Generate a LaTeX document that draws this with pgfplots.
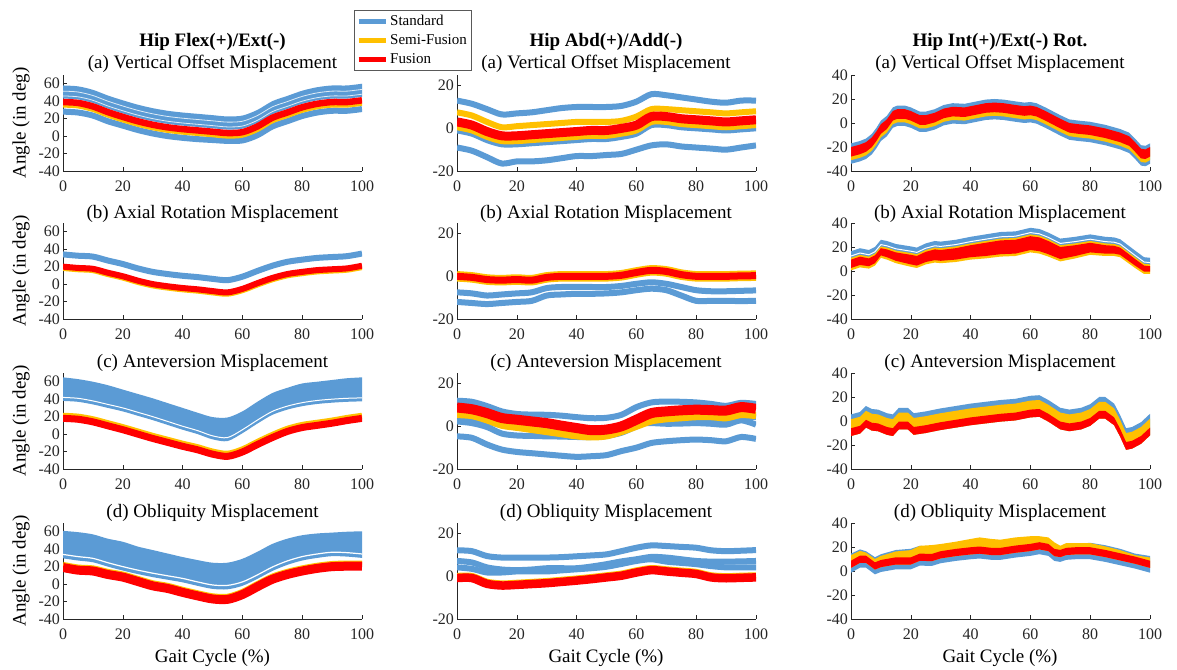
\documentclass[border=0pt]{standalone}
\usepackage{fontspec}
\setmainfont{Liberation Serif}
\usepackage{pgfplots}
\pgfplotsset{compat=1.18}
\usepackage{pgfplotstable}
\usepgfplotslibrary{fillbetween}
\definecolor{cb}{RGB}{91,155,213}
\definecolor{cy}{RGB}{255,192,0}
\definecolor{cr}{RGB}{255,0,0}
\definecolor{axc}{RGB}{38,38,38}
\pgfplotsset{
 panel/.style={
  scale only axis, width=299pt, height=96pt, anchor=south west,
  xmin=0, xmax=100, xtick={0,20,40,60,80,100},
  axis x line*=bottom, axis y line*=left,
  axis line style={-, line width=0.6pt, color=axc},
  tick align=inside, major tick length=4pt,
  tick style={line width=0.6pt, color=axc},
  tick label style={font=\fontsize{16}{16}\selectfont, text=axc},
  /pgf/number format/assume math mode=true,
  xticklabel style={yshift=-6.5pt},
  yticklabel style={xshift=0.5pt},
 },
 c1/.style={ymin=-40, ymax=70, ytick={-40,-20,0,20,40,60}},
 c2/.style={ymin=-20, ymax=25, ytick={-20,0,20}},
 c3/.style={ymin=-40, ymax=40, ytick={-40,-20,0,20,40}},
 ln/.style={forget plot, line join=round, smooth, tension=0.5},
 lr/.style={forget plot, line join=round},
 np/.style={forget plot, draw=none, smooth, tension=0.5},
 nr/.style={forget plot, draw=none},
 fb/.style={forget plot, draw=none, fill=#1},
}
% ---------------- column 1 : Hip Flex/Ext ----------------
\pgfplotstableread[row sep=\\]{
x T L W1 W2 R Y B \\
0 58 43 51.5 46 39 35.5 28 \\
5 57 42 50.5 45 38 34.5 27 \\
10 53 38 46.5 41 34 30.5 23.5 \\
15 46.5 31.5 40 34.5 27.5 24 17 \\
20 41 26 34.5 29 22 18.5 12 \\
25 36 21 29.5 24 17 13.5 7 \\
30 32 17 25.5 20 13 9.5 3 \\
35 29 14 22.5 17 10 6.5 0 \\
40 27 12 20.5 15 8 4.5 -2 \\
45 25.5 10.5 19 13.5 6.5 3 -3.5 \\
50 24 9 17.5 12 5 1.5 -4.5 \\
55 22.5 7.5 16 10.5 3.5 0 -5.5 \\
60 23.5 8.5 17 11.5 4.5 1 -5 \\
65 30 15 23.5 18 11 7.5 1 \\
70 40 25 33.5 28 21 17.5 11 \\
75 46 31 39.5 34 27 23.5 17 \\
80 52 37 45.5 40 33 29.5 23 \\
85 56 41 49.5 44 37 33.5 27 \\
90 58 43 51.5 46 39 35.5 29 \\
95 58 43 51.5 46 39 35.5 29 \\
100 60 45 53.5 48 41 37.5 31 \\
}\tAa
\pgfplotstableread[row sep=\\]{
x B R Y \\
0 34 20 18.5 \\
5 32.5 18.5 17 \\
10 31.5 17.5 16 \\
15 27 13 11.5 \\
20 23 9 7.5 \\
25 18 4 2.5 \\
30 14 0 -1.5 \\
35 11.5 -2.5 -4 \\
40 9.5 -4.5 -6 \\
45 8 -6 -7.5 \\
50 6 -8 -9.5 \\
55 4.5 -9.5 -11 \\
60 8.5 -5.5 -7 \\
65 15 1 -0.5 \\
70 21 7 5.5 \\
75 25.5 11.5 10 \\
80 28 14 12.5 \\
85 30 16 14.5 \\
90 31 17 15.5 \\
95 32 18 16.5 \\
100 35 21 19.5 \\
}\tAb
\pgfplotstableread[row sep=\\]{
x U L W R Y \\
0 65 38 42 18 21 \\
5 63 37 41 17 20 \\
10 60 34 38 14 17 \\
15 56 30 34 9.5 12.5 \\
20 51 26 30 5 8 \\
25 46 21 25 0 3 \\
30 41 16 20 -5 -2 \\
35 35.5 10.5 14.5 -9.5 -6.5 \\
40 30 5 9 -14 -11 \\
45 24.5 0 4 -18 -15 \\
50 19.5 -6 -2 -23 -20 \\
55 19 -8 -4 -25.5 -22.5 \\
60 26 1 5 -20.5 -17.5 \\
65 37 12 16 -12 -9 \\
70 47 22 26 -4 -1 \\
75 53 28 32 3 6 \\
80 58 32 36 7.5 10.5 \\
85 60 34.5 38.5 10 13 \\
90 62 36 40 12.5 15.5 \\
95 64 37 41 15.5 18.5 \\
100 65 37.5 41.5 18 21 \\
}\tAc
\pgfplotstableread[row sep=\\]{
x U L W R Y \\
0 61 29.5 34 19 22 \\
5 59.5 27 31.5 16 19 \\
10 57 25 29.5 15 18 \\
15 52 20 24.5 11 14 \\
20 48.5 15.5 20 8 11 \\
25 43 11.5 16 3 6 \\
30 39 8 12.5 -2 1 \\
35 35 5 9.5 -5 -2 \\
40 31 2 6.5 -9.5 -6.5 \\
45 27.5 -2 2.5 -13.5 -10.5 \\
50 24.5 -5.5 -1 -17 -14 \\
55 24.5 -6 -1.5 -17.5 -14.5 \\
60 29 -2 2.5 -12 -9 \\
65 37 6 10.5 -3 0 \\
70 46 15 19.5 5.5 8.5 \\
75 52 22 26.5 11 14 \\
80 56 27 31.5 15 18 \\
85 58 30 34.5 18 21 \\
90 59 32 36.5 20 23 \\
95 60 31.5 36 20.5 23.5 \\
100 60.5 30 34.5 20.5 23.5 \\
}\tAd
% ---------------- column 2 : Hip Abd/Add ----------------
\pgfplotstableread[row sep=\\]{
x B1 B2 B3 R Y1 Y2 \\
0 13 -9 -1 3 7.5 0.5 \\
5 11.5 -10.5 -2.5 1.5 6 -1 \\
10 9 -13.5 -5.5 -1.5 3 -4 \\
15 6.5 -16.5 -7.5 -3.5 0.5 -6 \\
20 7 -15.5 -7.5 -3.5 1 -6 \\
25 7.5 -15.5 -7 -3 1.5 -5.5 \\
30 8.5 -15 -6.5 -2.5 2 -5 \\
35 9.5 -14 -6 -2 2.5 -4.5 \\
40 10 -13 -5.5 -1.5 3 -4 \\
45 10 -13 -5 -1 3 -3.5 \\
50 10 -12.5 -5 -1 3 -3.5 \\
55 10.5 -12 -4 0 3.5 -2.5 \\
60 12.5 -10 -2.5 1.5 5.5 -1 \\
65 16 -8 1.5 5.5 9 3 \\
70 15.5 -7.5 1.5 5.5 9 3 \\
75 14.5 -8.5 0.5 4.5 8.5 2 \\
80 13.5 -9 0 4 8 1.5 \\
85 12.5 -9.5 -0.5 3.5 7.5 1 \\
90 12 -10 -1 3 7 0.5 \\
95 13 -9 -0.5 3.5 7.5 1 \\
100 13 -8 0 4 8 1.5 \\
}\tBa
\pgfplotstableread[row sep=\\]{
x B1 B2 R \\
0 -7.5 -12 0 \\
5 -8 -12.5 -0.5 \\
10 -9 -13 -1.5 \\
15 -8.5 -12.5 -1.8 \\
20 -8 -12 -1.5 \\
25 -7.5 -11.5 -1.8 \\
30 -5.5 -9 -0.5 \\
35 -5 -8.5 0 \\
40 -5 -8.2 0 \\
45 -5 -8.2 0 \\
50 -5 -8 0 \\
55 -4.5 -7.5 0.5 \\
60 -3.5 -6.5 1.8 \\
65 -2.8 -5.8 2.8 \\
70 -3.5 -6.5 2.3 \\
75 -5 -9 0.8 \\
80 -6.5 -11.5 0 \\
85 -7 -11.5 0 \\
90 -7 -11.5 0 \\
95 -6.8 -11.6 0.2 \\
100 -6.6 -11.5 0.3 \\
}\tBb
\pgfplotstableread[row sep=\\]{
x B1 B2 B3 B4 R Y \\
0 12 5 2.3 -4.7 8.8 5.5 \\
5 11.5 4 1.5 -5.4 8 5 \\
10 9.5 2.3 -0.3 -8.5 6.2 3 \\
15 7 0.5 -3.4 -10.9 3.9 0.5 \\
20 5.8 -0.5 -4.3 -12 3.1 -0.5 \\
25 5.5 -1 -4.5 -12.6 2.3 -1.5 \\
30 5.4 -1.5 -4.7 -13.2 1.5 -2.5 \\
35 5 -2.5 -4.8 -13.8 0.3 -3.5 \\
40 4.3 -3.9 -5 -14.3 -0.8 -4.5 \\
45 3.8 -5 -5 -14 -1.8 -5 \\
50 4 -4.5 -4.3 -13.5 -1.5 -4.5 \\
55 5.4 -3 -1.5 -11.6 0 -2.5 \\
60 9 0 1.2 -10 3.1 0 \\
65 11.2 2.8 1.5 -7.8 6.2 2.5 \\
70 11.6 3.1 1.2 -7 7 3.5 \\
75 11.5 3.5 1.3 -6.5 7.5 4 \\
80 11.2 3.9 1.5 -6.2 7.8 4.5 \\
85 10.5 3.5 1.2 -6.5 7.6 4.5 \\
90 9.6 2.8 0.8 -7 7.4 4 \\
95 11 4.5 2.8 -5 9 5.5 \\
100 10.5 4.3 0.8 -5.9 8.2 5 \\
}\tBc
\pgfplotstableread[row sep=\\]{
x B1 B2 B3 R Y \\
0 12.2 7.2 4.2 -0.8 0.2 \\
5 11.8 6.5 3.5 -0.8 0.2 \\
10 9.5 4.2 1.8 -3.5 -2.5 \\
15 8.8 3.2 1.8 -4.3 -3.3 \\
20 8.8 2.9 2.3 -4 -3 \\
25 8.8 3.2 2.3 -3.6 -2.6 \\
30 8.8 3.8 2.3 -3.2 -2.2 \\
35 9 3.8 2.8 -2.6 -1.6 \\
40 9.4 3.8 3.3 -2 -1 \\
45 9.8 4.6 3.8 -1.3 -0.3 \\
50 10.3 5.7 4.5 -0.5 0.5 \\
55 11.8 7 5.8 0.3 1.3 \\
60 13.4 8 7.2 1.8 2.8 \\
65 14.5 9.1 8 2.9 3.9 \\
70 14.2 8.8 6.9 2.3 3.3 \\
75 13.8 8 6.3 1.7 2.7 \\
80 13.4 7.2 5.7 1.1 2.1 \\
85 12.2 6.9 4.8 -0.5 0.5 \\
90 11.8 6.9 4.2 -0.9 0.1 \\
95 12 7 4.2 -0.7 0.3 \\
100 12.3 7.2 4.2 -0.5 0.5 \\
}\tBd
% ---------------- column 3 : Hip Int/Ext Rot ----------------
\pgfplotstableread[row sep=\\]{
x BU YU RU RL YL BL \\
0 -17 -20.5 -20 -28 -31 -34 \\
3 -15 -18.5 -18 -26 -29 -32 \\
5 -13 -16.5 -16 -24 -27 -30 \\
7 -9 -12.5 -12 -20 -23 -26 \\
8.5 -4 -7.5 -7 -15 -18 -21 \\
10 2 -1.5 -1 -9 -12 -15 \\
12 6 2.5 3 -5 -8 -11 \\
14 13 9.5 10 2 -1 -4 \\
15.5 14.5 11 11.5 3.5 0.5 -2.5 \\
18 14.5 11 11.5 3.5 0.5 -2.5 \\
20 13 9.5 10 2 -1 -4 \\
23 9.5 6 6.5 -1.5 -4.5 -7.5 \\
25 9.5 6 6.5 -1.5 -4.5 -7.5 \\
28 11.5 8 8.5 0.5 -2.5 -5.5 \\
31 15 11.5 12 4 1 -2 \\
34 16.5 13 13.5 5.5 2.5 -0.5 \\
38 16 12.5 13 5 2 -1 \\
40 17 13.5 14 6 3 0 \\
45 19.5 16 16.5 8.5 5.5 2.5 \\
48 20 16.5 17 9 6 3 \\
51 19.5 16 16.5 8.5 5.5 2.5 \\
55 18 14.5 15 7 4 1 \\
58 17 13.5 14 6 3 0 \\
60 17.5 14 14.5 6.5 3.5 0.5 \\
62 16.5 13 13.5 5.5 2.5 -0.5 \\
65 13 9.5 10 2 -1 -4 \\
70 6.5 3 3.5 -4.5 -7.5 -10.5 \\
73 3 -0.5 0 -8 -11 -14 \\
76 2 -1.5 -1 -9 -12 -15 \\
80 1 -2.5 -2 -10 -13 -16 \\
85 -1.5 -5 -4.5 -12.5 -15.5 -18.5 \\
90 -5 -8.5 -8 -16 -19 -22 \\
93 -8 -11.5 -11 -19 -22 -25 \\
95 -13 -16.5 -16 -24 -27 -30 \\
97 -18.5 -22 -21.5 -29.5 -32.5 -35.5 \\
98.5 -19 -22.5 -22 -30 -33 -36 \\
100 -17 -20.5 -20 -28 -31 -34 \\
}\tCa
\pgfplotstableread[row sep=\\]{
x BU BL W YU RU RL YL \\
0 16.5 10.5 12.5 11 9.5 2.5 0.5 \\
3 19 13 15 13.5 12 5 3 \\
6 17.5 11.5 13.5 12 10.5 4 2 \\
8 20 14 16 14.5 13 6.5 4.5 \\
10 26 20 22 20.5 19 13 11 \\
12 25 19 21 19.5 18 11.5 9.5 \\
15 22.5 16.5 18.5 17 15.5 8.5 6.5 \\
20 20.5 14.5 16.5 15 13.5 5.5 3.5 \\
22 19.5 13.5 15.5 14 12.5 4.5 2.5 \\
25 23 17 19 17.5 16 7.5 5.5 \\
28 25 19 21 19.5 18 9 7 \\
30 24.5 18.5 20.5 19 17.5 8.5 6.5 \\
35 26 20 22 20.5 19 9.5 7.5 \\
40 28.5 22.5 24.5 23 21.5 11.5 9.5 \\
45 30.5 24.5 26.5 25 23.5 12.5 10.5 \\
50 32.5 26.5 28.5 27 25.5 14 12 \\
55 33 27 29 27.5 26 14.5 12.5 \\
60 36 30 32 30.5 29 17.5 15.5 \\
63 35 29 31 29.5 28 16.5 14.5 \\
66 32 26 28 26.5 25 14 12 \\
70 27 21 23 21.5 20 10 8 \\
75 28.5 22.5 24.5 23 21.5 12.5 10.5 \\
80 30.5 24.5 26.5 25 23.5 15.5 13.5 \\
85 28.5 22.5 24.5 23 21.5 14.5 12.5 \\
88 28 22 24 22.5 21 14.5 12.5 \\
90 26.5 20.5 22.5 21 19.5 13.5 11.5 \\
95 17 11 13 11.5 10 4.5 2.5 \\
98 11.5 5.5 7.5 6 4.5 -0.5 -2.5 \\
100 11 5 7 5.5 4 -0.5 -2.5 \\
}\tCb
\pgfplotstableread[row sep=\\]{
x BU YU RU L \\
0 5.5 1.5 -6 -12.5 \\
3 7.5 3.5 -4 -10.5 \\
5 12.5 8.5 1 -5.5 \\
7 10 6 -1.5 -8 \\
9 9.5 5.5 -2 -8.5 \\
12 6.5 2.5 -5 -11.5 \\
14 5.5 1.5 -6 -12.5 \\
16 11 7 -0.5 -7 \\
19 11 7 -0.5 -7 \\
21 6.5 2.5 -5 -11.5 \\
25 8 4 -3.5 -10 \\
30 10.5 6.5 -1 -7.5 \\
35 12.5 8.5 1 -5.5 \\
40 14.5 10.5 3 -3.5 \\
45 16 12 4.5 -2 \\
50 17.5 13.5 6 -0.5 \\
55 18.5 14.5 7 0.5 \\
60 21 17 9.5 3 \\
63 21.5 17.5 10 3.5 \\
66 17.5 13.5 6 -0.5 \\
70 11 7 -0.5 -7 \\
73 9.5 5.5 -2 -8.5 \\
77 11 7 -0.5 -7 \\
80 14 10 2.5 -4 \\
83 20 16 8.5 2 \\
85 20 16 8.5 2 \\
88 14.5 10.5 3 -3.5 \\
90 5 1 -6.5 -13 \\
92 -6 -10 -17.5 -24 \\
94 -5 -9 -16.5 -23 \\
97 -1 -5 -12.5 -19 \\
100 6 2 -5.5 -12 \\
}\tCc
\pgfplotstableread[row sep=\\]{
x BU T RU RL L \\
0 14.5 13.2 8.6 2.6 -1.4 \\
3 18 16.8 12.8 6.8 2.8 \\
5 16.5 15.4 12.8 6.8 2.8 \\
8 11.5 10 7.2 1.2 -2.8 \\
10 14 12.6 9.2 3.2 -0.8 \\
15 17.5 16.3 11.4 5.4 1.4 \\
20 18.5 17.4 11.4 5.4 1.4 \\
23 21 21 14.5 8.5 4.5 \\
27 20 21.6 14.2 8.2 4.2 \\
30 20.5 22.5 16.5 10.5 6.5 \\
35 22 24.4 18.4 12.4 8.4 \\
40 24 26.7 19.8 13.8 9.8 \\
43 25 28 20.4 14.4 10.4 \\
47 24 26.7 19.3 13.3 9.3 \\
50 23.5 26.1 19.3 13.3 9.3 \\
55 25 28 21.2 15.2 11.2 \\
60 26 29 22.6 16.6 12.6 \\
63 26 29 24 18 14 \\
66 25 28 22.6 16.6 12.6 \\
68 21.5 23.9 18.4 12.4 8.4 \\
70 20 21 17.6 11.6 7.6 \\
72 22 23.3 19.3 13.3 9.3 \\
75 22.5 23.3 19.8 13.8 9.8 \\
80 23.5 23.3 19.8 13.8 9.8 \\
85 21.5 20.5 17.6 11.6 7.6 \\
90 18.5 17.4 14.8 8.8 4.8 \\
95 14.5 13.2 12 6 2 \\
100 12.5 11.2 8.6 2.6 -1.4 \\
}\tCd
\begin{document}
\begin{tikzpicture}
\path (0pt,0pt) rectangle (1177pt,669pt);
% ===== column 1 =====
\begin{axis}[panel, c1, at={(63pt,498pt)},
  legend style={at={(0.973,1.677)}, anchor=north west, draw=black!65, line width=0.6pt,
    fill=white, font=\fontsize{15}{16}\selectfont, legend cell align=left,
    inner xsep=2pt, inner ysep=3.2pt, row sep=3.6pt},
  legend image code/.code={\draw[#1, line width=5pt] (0pt,0pt) -- (27pt,0pt);}]
\addlegendimage{cb}\addlegendentry{Standard}
\addlegendimage{cy}\addlegendentry{Semi-Fusion}
\addlegendimage{cr}\addlegendentry{Fusion}
\addplot[np, name path=AaT] table[x=x,y=T]{\tAa};
\addplot[np, name path=AaL] table[x=x,y=L]{\tAa};
\addplot[fb=cb] fill between[of=AaT and AaL];
\addplot[ln, white, line width=0.8pt, opacity=0.8] table[x=x,y=W1]{\tAa};
\addplot[ln, white, line width=0.8pt, opacity=0.8] table[x=x,y=W2]{\tAa};
\addplot[ln, cb, line width=6pt] table[x=x,y=B]{\tAa};
\addplot[ln, cy, line width=5pt] table[x=x,y=Y]{\tAa};
\addplot[ln, cr, line width=6.5pt] table[x=x,y=R]{\tAa};
\end{axis}
\begin{axis}[panel, c1, at={(63pt,350pt)}]
\addplot[ln, cb, line width=6pt] table[x=x,y=B]{\tAb};
\addplot[ln, cy, line width=6pt] table[x=x,y=Y]{\tAb};
\addplot[ln, cr, line width=6pt] table[x=x,y=R]{\tAb};
\end{axis}
\begin{axis}[panel, c1, at={(63pt,200pt)}]
\addplot[np, name path=AcU] table[x=x,y=U]{\tAc};
\addplot[np, name path=AcL] table[x=x,y=L]{\tAc};
\addplot[fb=cb] fill between[of=AcU and AcL];
\addplot[ln, white, line width=1pt] table[x=x,y=W]{\tAc};
\addplot[ln, cy, line width=6pt] table[x=x,y=Y]{\tAc};
\addplot[ln, cr, line width=7pt] table[x=x,y=R]{\tAc};
\end{axis}
\begin{axis}[panel, c1, at={(63pt,50pt)}]
\addplot[np, name path=AdU] table[x=x,y=U]{\tAd};
\addplot[np, name path=AdL] table[x=x,y=L]{\tAd};
\addplot[fb=cb] fill between[of=AdU and AdL];
\addplot[ln, white, line width=1.2pt] table[x=x,y=W]{\tAd};
\addplot[ln, cy, line width=6pt] table[x=x,y=Y]{\tAd};
\addplot[ln, cr, line width=9pt] table[x=x,y=R]{\tAd};
\end{axis}
% ===== column 2 =====
\begin{axis}[panel, c2, at={(457pt,498pt)}]
\addplot[ln, cb, line width=6pt] table[x=x,y=B1]{\tBa};
\addplot[ln, cb, line width=6pt] table[x=x,y=B2]{\tBa};
\addplot[ln, cb, line width=6pt] table[x=x,y=B3]{\tBa};
\addplot[ln, cy, line width=6pt] table[x=x,y=Y1]{\tBa};
\addplot[ln, cy, line width=6pt] table[x=x,y=Y2]{\tBa};
\addplot[ln, cr, line width=9pt] table[x=x,y=R]{\tBa};
\end{axis}
\begin{axis}[panel, c2, at={(457pt,350pt)}]
\addplot[ln, cb, line width=6pt] table[x=x,y=B1]{\tBb};
\addplot[ln, cb, line width=6pt] table[x=x,y=B2]{\tBb};
\addplot[ln, cy, line width=10.5pt] table[x=x,y=R]{\tBb};
\addplot[ln, cr, line width=7pt] table[x=x,y=R]{\tBb};
\end{axis}
\begin{axis}[panel, c2, at={(457pt,200pt)}]
\addplot[ln, cb, line width=6pt] table[x=x,y=B1]{\tBc};
\addplot[ln, cb, line width=6pt] table[x=x,y=B2]{\tBc};
\addplot[ln, cb, line width=6pt] table[x=x,y=B3]{\tBc};
\addplot[ln, cb, line width=6pt] table[x=x,y=B4]{\tBc};
\addplot[ln, cy, line width=7pt] table[x=x,y=Y]{\tBc};
\addplot[ln, cr, line width=10pt] table[x=x,y=R]{\tBc};
\end{axis}
\begin{axis}[panel, c2, at={(457pt,50pt)}]
\addplot[ln, cb, line width=6pt] table[x=x,y=B1]{\tBd};
\addplot[ln, cb, line width=6pt] table[x=x,y=B2]{\tBd};
\addplot[ln, cb, line width=6pt] table[x=x,y=B3]{\tBd};
\addplot[ln, cy, line width=6pt] table[x=x,y=Y]{\tBd};
\addplot[ln, cr, line width=8.5pt] table[x=x,y=R]{\tBd};
\end{axis}
% ===== column 3 =====
\begin{axis}[panel, c3, at={(851pt,498pt)}]
\addplot[nr, name path=CaBU] table[x=x,y=BU]{\tCa};
\addplot[nr, name path=CaBL] table[x=x,y=BL]{\tCa};
\addplot[nr, name path=CaYU] table[x=x,y=YU]{\tCa};
\addplot[nr, name path=CaYL] table[x=x,y=YL]{\tCa};
\addplot[nr, name path=CaRU] table[x=x,y=RU]{\tCa};
\addplot[nr, name path=CaRL] table[x=x,y=RL]{\tCa};
\addplot[fb=cb] fill between[of=CaBU and CaBL];
\addplot[fb=cy] fill between[of=CaYU and CaYL];
\addplot[fb=cr] fill between[of=CaRU and CaRL];
\end{axis}
\begin{axis}[panel, c3, at={(851pt,350pt)}]
\addplot[nr, name path=CbBU] table[x=x,y=BU]{\tCb};
\addplot[nr, name path=CbBL] table[x=x,y=BL]{\tCb};
\addplot[nr, name path=CbYU] table[x=x,y=YU]{\tCb};
\addplot[nr, name path=CbYL] table[x=x,y=YL]{\tCb};
\addplot[nr, name path=CbRU] table[x=x,y=RU]{\tCb};
\addplot[nr, name path=CbRL] table[x=x,y=RL]{\tCb};
\addplot[fb=cb] fill between[of=CbBU and CbBL];
\addplot[lr, white, line width=1pt] table[x=x,y=W]{\tCb};
\addplot[fb=cy] fill between[of=CbYU and CbYL];
\addplot[fb=cr] fill between[of=CbRU and CbRL];
\end{axis}
\begin{axis}[panel, c3, at={(851pt,200pt)}]
\addplot[nr, name path=CcBU] table[x=x,y=BU]{\tCc};
\addplot[nr, name path=CcYU] table[x=x,y=YU]{\tCc};
\addplot[nr, name path=CcRU] table[x=x,y=RU]{\tCc};
\addplot[nr, name path=CcL] table[x=x,y=L]{\tCc};
\addplot[fb=cb] fill between[of=CcBU and CcL];
\addplot[fb=cy] fill between[of=CcYU and CcL];
\addplot[fb=cr] fill between[of=CcRU and CcL];
\end{axis}
\begin{axis}[panel, c3, at={(851pt,50pt)}]
\addplot[nr, name path=CdBU] table[x=x,y=BU]{\tCd};
\addplot[nr, name path=CdT] table[x=x,y=T]{\tCd};
\addplot[nr, name path=CdRU] table[x=x,y=RU]{\tCd};
\addplot[nr, name path=CdRL] table[x=x,y=RL]{\tCd};
\addplot[nr, name path=CdL] table[x=x,y=L]{\tCd};
\addplot[fb=cb] fill between[of=CdBU and CdL];
\addplot[fb=cy] fill between[of=CdT and CdRL];
\addplot[fb=cr] fill between[of=CdRU and CdRL];
\end{axis}
% ===== titles and labels =====
\begin{scope}[every node/.style={font=\fontsize{19}{21}\selectfont, anchor=base, inner sep=0pt}]
\node[font=\fontsize{19}{21}\selectfont\bfseries] at (212.5pt,622pt) {Hip Flex(+)/Ext(-)};
\node[font=\fontsize{19}{21}\selectfont\bfseries] at (606pt,622pt) {Hip Abd(+)/Add(-)};
\node[font=\fontsize{19}{21}\selectfont\bfseries] at (1000pt,622pt) {Hip Int(+)/Ext(-) Rot.};
\foreach \cx in {212.5,606,1000}{
  \node at (\cx pt,600pt) {(a) Vertical Offset Misplacement};
  \node at (\cx pt,450pt) {(b) Axial Rotation Misplacement};
  \node at (\cx pt,301pt) {(c) Anteversion Misplacement};
  \node at (\cx pt,151pt) {(d) Obliquity Misplacement};
  \node at (\cx pt,7pt) {Gait Cycle (\%)};
}
\foreach \cy in {546,398,248,98}{
  \node[rotate=90, anchor=center] at (21pt,\cy pt) {Angle (in deg)};
}
\end{scope}
\end{tikzpicture}
\end{document}
